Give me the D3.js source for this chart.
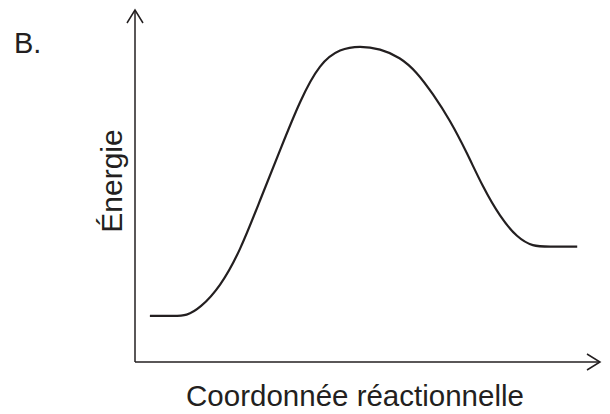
<!DOCTYPE html>
<html>
<head>
<meta charset="utf-8">
<script src="https://cdn.jsdelivr.net/npm/d3@7"></script>
<style>
html,body{margin:0;padding:0;background:#fff;}
svg{display:block;}
text{font-family:"Liberation Sans",Arial,sans-serif;fill:#231f20;}
</style>
</head>
<body>
<svg id="chart" width="610" height="414"></svg>
<script>
// Reaction coordinate (0-100) and energy (0-100, arbitrary units)
const reactionCoord = [3.2, 8.6, 11.0, 14.0, 18.3, 22.6, 26.9, 31.2, 35.5, 39.8, 44.1, 48.4, 52.7, 57.0, 60.6, 64.1, 67.7, 71.4, 74.8, 78.5, 82.2, 85.6, 88.8, 95.1];
const energy =        [13.1, 13.1, 13.1, 15.3, 21.3, 31.5, 46.0, 60.2, 74.4, 85.0, 89.0, 89.8, 89.0, 86.6, 82.4, 76.1, 68.8, 59.4, 49.7, 41.2, 35.3, 32.8, 32.8, 32.8];
const xLabel = "Coordonnée réactionnelle";
const yLabel = "Énergie";
const panelLabel = "B.";

const svg = d3.select("#chart");
const ox = 135, oy = 362, xEnd = 600, yEnd = 10;
const x = d3.scaleLinear().domain([0, 100]).range([ox, xEnd]);
const y = d3.scaleLinear().domain([0, 100]).range([oy, yEnd]);
const ink = "#231f20";

// axes
svg.append("line").attr("x1", x(0)).attr("y1", y(0)).attr("x2", x(100)).attr("y2", y(0))
  .attr("stroke", ink).attr("stroke-width", 1.5);
svg.append("line").attr("x1", x(0)).attr("y1", y(0)).attr("x2", x(0)).attr("y2", y(100))
  .attr("stroke", ink).attr("stroke-width", 1.5);
// arrow heads (open)
svg.append("path").attr("d", `M${x(0)-8},${y(100)+13} L${x(0)},${y(100)} L${x(0)+8},${y(100)+13}`)
  .attr("fill", "none").attr("stroke", ink).attr("stroke-width", 1.5);
svg.append("path").attr("d", `M${x(100)-13},${y(0)-8} L${x(100)},${y(0)} L${x(100)-13},${y(0)+8}`)
  .attr("fill", "none").attr("stroke", ink).attr("stroke-width", 1.5);

// curve
const pts = reactionCoord.map((c, i) => [c, energy[i]]);
const line = d3.line().x(d => x(d[0])).y(d => y(d[1])).curve(d3.curveBasis);
svg.append("path").datum(pts).attr("d", line)
  .attr("fill", "none").attr("stroke", ink).attr("stroke-width", 2.2);

// labels
svg.append("text").attr("x", 355).attr("y", 406)
  .attr("text-anchor", "middle").attr("font-size", 29.5).text(xLabel);
svg.append("text").attr("transform", `translate(122,181) rotate(-90)`)
  .attr("text-anchor", "middle").attr("font-size", 30).text(yLabel);
svg.append("text").attr("x", 14).attr("y", 53).attr("font-size", 29).text(panelLabel);
</script>
</body>
</html>
